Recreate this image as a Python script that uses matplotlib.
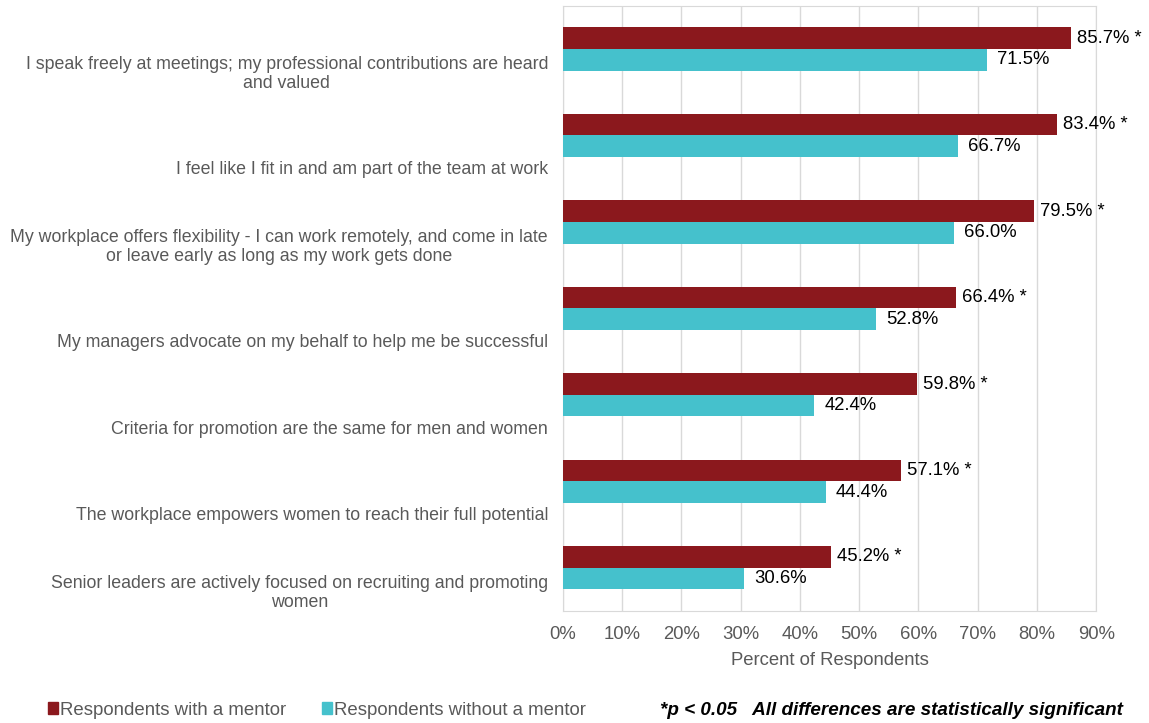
import numpy as np
import matplotlib
matplotlib.use("Agg")
from matplotlib import pyplot as plt
from matplotlib.patches import Patch

plt.rcParams['font.family'] = ['Liberation Sans', 'DejaVu Sans']

categories = [
    "I speak freely at meetings; my professional contributions are heard\nand valued",
    "I feel like I fit in and am part of the team at work",
    "My workplace offers flexibility - I can work remotely, and come in late\nor leave early as long as my work gets done",
    "My managers advocate on my behalf to help me be successful",
    "Criteria for promotion are the same for men and women",
    "The workplace empowers women to reach their full potential",
    "Senior leaders are actively focused on recruiting and promoting\nwomen",
]
with_mentor = [85.7, 83.4, 79.5, 66.4, 59.8, 57.1, 45.2]
without_mentor = [71.5, 66.7, 66.0, 52.8, 42.4, 44.4, 30.6]
series_names = ["Respondents with a mentor", "Respondents without a mentor"]
xticks = list(range(0, 100, 10))

red = "#8B181D"
cyan = "#45C1CC"
gray = "#595959"

fig = plt.figure(figsize=(11.49, 7.23), dpi=100)
ax = fig.add_axes([0.490, 0.155, 0.464, 0.837])

y = np.arange(len(categories))
h = 0.25
ax.barh(y - h / 2, with_mentor, height=h, color=red, zorder=3)
ax.barh(y + h / 2, without_mentor, height=h, color=cyan, zorder=3)

for yi, v in zip(y, with_mentor):
    ax.text(v + 1.0, yi - h / 2, f"{v:.1f}% *", va="center", ha="left",
            fontsize=13.3, color="black")
for yi, v in zip(y, without_mentor):
    ax.text(v + 1.7, yi + h / 2, f"{v:.1f}%", va="center", ha="left",
            fontsize=13.3, color="black")

ax.set_xlim(0, 90)
ax.set_ylim(len(categories) - 0.5, -0.5)
ax.set_xticks(xticks)
ax.set_xticklabels([f"{t}%" for t in xticks], fontsize=13.3, color=gray)
ax.tick_params(axis="x", length=0, pad=11)
ax.set_yticks([])
ax.xaxis.grid(True, color="#d9d9d9", lw=1, zorder=0)
for s in ax.spines.values():
    s.set_color("#d9d9d9")
ax.set_xlabel("Percent of Respondents", fontsize=13.3, color=gray, labelpad=6)

# category labels sit toward the bottom of each band
for yi, lab in zip(y, categories):
    ax.text(-0.028, yi + 0.495, lab, transform=ax.get_yaxis_transform(),
            ha="right", va="bottom", fontsize=12.8, color=gray,
            linespacing=1.15, multialignment="center")

handles = [Patch(color=red), Patch(color=cyan)]
fig.legend(handles, series_names, loc="lower left", bbox_to_anchor=(0.027, -0.017),
           ncol=2, frameon=False, fontsize=13.4, labelcolor=gray,
           handlelength=0.55, handleheight=0.55, handletextpad=0.12,
           columnspacing=1.9)

fig.text(0.977, 0.006, "*p < 0.05   All differences are statistically significant",
         ha="right", va="bottom", fontsize=13.6, fontweight="bold",
         fontstyle="italic", color="black")

fig.savefig("out.png", dpi=100)
